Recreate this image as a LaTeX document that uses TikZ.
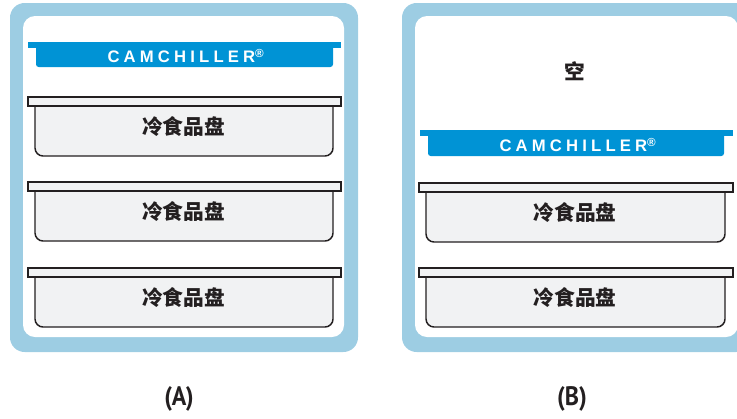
\documentclass[tikz,border=0pt]{standalone}
\usepackage{fontspec}
\setmainfont{Liberation Sans}
\newfontfamily\cjk{Noto Sans CJK SC}
\newfontfamily\camfont[LetterSpace=25]{Liberation Sans}
\newfontfamily\labfont{PT Sans}

\definecolor{frameblue}{HTML}{9DCDE3}
\definecolor{barblue}{HTML}{0093D5}
\definecolor{trayfill}{HTML}{F1F2F3}
\definecolor{trayline}{HTML}{231F20}

\tikzstyle{frame} = [fill=frameblue, rounded corners=11pt]
\tikzstyle{inside} = [fill=white, rounded corners=9pt]
\tikzstyle{bar} = [fill=barblue]
\tikzstyle{tray} = [draw=trayline, fill=trayfill, line width=1.1pt]
\tikzstyle{traytext} = [text=trayline, font=\cjk\bfseries\fontsize{15.5}{17}\selectfont]
\tikzstyle{bartext} = [text=white, font=\camfont\bfseries\fontsize{12.5}{14}\selectfont]
\tikzstyle{caption} = [text=trayline, font=\labfont\bfseries\fontsize{20}{22}\selectfont]

% one pan: body, lip and its label
\newcommand{\foodtray}[5]{%
    \draw [tray, rounded corners=6pt] (#1+7,#3+9) -- (#1+7,#3+59) -- (#2-8,#3+59) -- (#2-8,#3+9);
    \draw [tray] (#1,#3) rectangle (#2,#3+9);
    \node (#5) [traytext] at ({(#1+#2)/2-1},#3+30) {#4};
}

\begin{document}
\begin{tikzpicture}[x=0.75pt, y=-0.75pt]
    \useasboundingbox (0,0) rectangle (737,418);
    \clip (0,0) rectangle (737,418);

    % cabinet A
    \fill [frame] (10,3) rectangle (358,352);
    \fill [inside] (23,16) rectangle (344,337);
    \fill [bar] (28,42) rectangle (341,48);
    \fill [bar, rounded corners=2pt] (36,44) -- (36,67) -- (333,67) -- (333,44) -- cycle;
    \node (camA) [bartext] at (186,56) {CAMCHILLER\textsuperscript{®}};
    \foodtray{28}{341}{97}{冷食品盘}{panA1}
    \foodtray{28}{341}{182}{冷食品盘}{panA2}
    \foodtray{28}{341}{268}{冷食品盘}{panA3}
    \node (capA) [caption] at (179,399) {\scalebox{0.9}[1]{(A)}};

    % cabinet B
    \fill [frame] (402,3) rectangle (751,352);
    \fill [inside] (415,16) rectangle (738,337);
    \node (empty) [traytext] at (575,71) {空};
    \fill [bar] (420,130) rectangle (733,136);
    \fill [bar, rounded corners=2pt] (428,132) -- (428,156) -- (724,156) -- (724,132) -- cycle;
    \node (camB) [bartext] at (578,145) {CAMCHILLER\textsuperscript{®}};
    \foodtray{419}{733}{183}{冷食品盘}{panB1}
    \foodtray{419}{733}{268}{冷食品盘}{panB2}
    \node (capB) [caption] at (572,399) {\scalebox{0.9}[1]{(B)}};
\end{tikzpicture}
\end{document}
